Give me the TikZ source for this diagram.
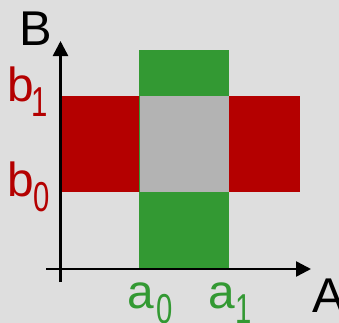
\documentclass[tikz,border=0pt]{standalone}
\usepackage{fontspec}
\setmainfont{Liberation Sans}
\usetikzlibrary{arrows.meta}
\definecolor{bgc}{HTML}{DEDEDE}
\definecolor{redc}{HTML}{B40000}
\definecolor{greenc}{HTML}{339933}
\definecolor{grayc}{HTML}{B3B3B3}
\newcommand\mylbl[3]{{\fontsize{48}{48}\selectfont #1}\kern#3\raisebox{-15.5bp}{\scalebox{0.7}[1]{\fontsize{42}{42}\selectfont #2}}}
\begin{document}
\begin{tikzpicture}[x=1bp,y=-1bp,
  lbl/.style={inner sep=0,outer sep=0,anchor=base west},
  axis/.style={line width=2.5bp,-{Triangle[length=15bp,width=15bp]}}]
\useasboundingbox[fill=bgc] (0,0) rectangle (339,323);
\fill[redc] (60,96) rectangle (300,192);
\fill[greenc] (139,50) rectangle (229,268);
\fill[grayc] (139.7,96) rectangle (229,192);
\coordinate (O1) at (60.5,282);
\coordinate (Btip) at (60.5,41);
\coordinate (O2) at (46,269);
\coordinate (Atip) at (311,269);
\draw[axis] (O1) -- (Btip);
\draw[axis] (O2) -- (Atip);
\node[lbl] (lB) at (19.5,45) {\fontsize{49}{49}\selectfont B};
\node[lbl] (lA) at (312,312) {\fontsize{49}{49}\selectfont A};
\node[lbl,text=redc] (lb1) at (7,101) {\mylbl{b}{1}{-2bp}};
\node[lbl,text=redc] (lb0) at (7,196) {\mylbl{b}{0}{0bp}};
\node[lbl,text=greenc] (la0) at (127,308) {\mylbl{a}{0}{3bp}};
\node[lbl,text=greenc] (la1) at (208,308) {\mylbl{a}{1}{1bp}};
\end{tikzpicture}
\end{document}
